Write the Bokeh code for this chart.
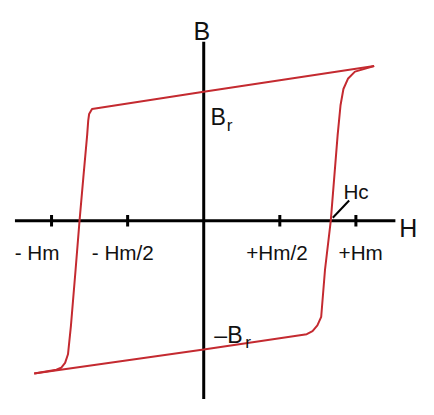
from bokeh.plotting import figure
from bokeh.models import Range1d, Label
from bokeh.embed import file_html
from bokeh.resources import INLINE

# ---- data (H in units of Hm, B in units of Br) ----
upper_H = [1.120, 0.0, -0.734, -0.753, -0.759, -0.766, -0.791, -0.816, -0.842, -0.873, -0.892, -0.911, -0.937, -0.968, -1.114]
upper_B = [1.201, 1.0, 0.866, 0.828, 0.776, 0.664, 0.336, 0.0, -0.381, -0.821, -1.037, -1.104, -1.142, -1.157, -1.187]
lower_H = [-1.114, 0.0, 0.677, 0.715, 0.747, 0.772, 0.797, 0.835, 0.880, 0.899, 0.918, 0.949, 0.994, 1.120]
lower_B = [-1.187, -1.0, -0.881, -0.858, -0.813, -0.746, -0.381, 0.0, 0.664, 0.896, 1.022, 1.104, 1.157, 1.201]
tick_values = [-1.0, -0.5, 0.5, 1.0]
tick_labels = ["- Hm", "- Hm/2", "+Hm/2", "+Hm"]

# ---- layout ----
W, H = 418, 399
RW, RH = 434, 415          # reference canvas
K = W / RW                 # scale factor
OX, OY = 211, 229          # origin in reference px
SX, SY = 158.0, 134.0      # reference px per unit

def d(px, py):
    """reference pixel -> data coords"""
    return (px - OX) / SX, (OY - py) / SY

x0, y0 = d(0, 0)
x1, y1 = d(RW, RH)

p = figure(width=W, height=H, output_backend="svg", toolbar_location=None,
           x_range=Range1d(x0, x1), y_range=Range1d(y1, y0),
           min_border=0, min_border_left=0, min_border_right=0,
           min_border_top=0, min_border_bottom=0)
p.axis.visible = False
p.grid.visible = False
p.outline_line_color = None
p.background_fill_color = "white"
p.border_fill_color = "white"

FONT = "Liberation Sans"
RED = "#c42a30"

# axes
hx0, _ = d(15, 0)
hx1, _ = d(410, 0)
_, vy0 = d(0, 43)
_, vy1 = d(0, 420)
p.segment(x0=[hx0], y0=[0], x1=[hx1], y1=[0], line_color="black", line_width=3)
p.segment(x0=[0], y0=[vy0], x1=[0], y1=[vy1], line_color="black", line_width=3)
th = 6 / SY
p.segment(x0=tick_values, y0=[-th] * 4, x1=tick_values, y1=[th] * 4,
          line_color="black", line_width=3)

# loop
p.line(upper_H, upper_B, line_color=RED, line_width=2)
p.line(lower_H, lower_B, line_color=RED, line_width=2)

# Hc leader
a = d(345, 226)
b = d(362, 208)
p.segment(x0=[a[0]], y0=[a[1]], x1=[b[0]], y1=[b[1]], line_color="black", line_width=2)

def lab(text, px, py, size, align="left"):
    x, y = d(px, py)
    p.add_layout(Label(x=x, y=y, text=text, text_font=FONT,
                       text_font_size=f"{size * K:.1f}px", text_color="#111111",
                       text_align=align, text_baseline="alphabetic"))

# tick labels
label_px = [38, 127, 287, 374]
for t, lx in zip(tick_labels, label_px):
    lab(t, lx, 262, 21.5, "center")

lab("B", 209, 32, 26, "center")
lab("H", 414, 237, 26)
lab("Hc", 356, 199, 21.5)
lab("B", 218, 121, 24)
lab("r", 235, 129, 18)
lab("\u2013B", 222, 348, 24)
lab("r", 254, 355, 18)

open("out.html", "w").write(file_html(p, INLINE))
